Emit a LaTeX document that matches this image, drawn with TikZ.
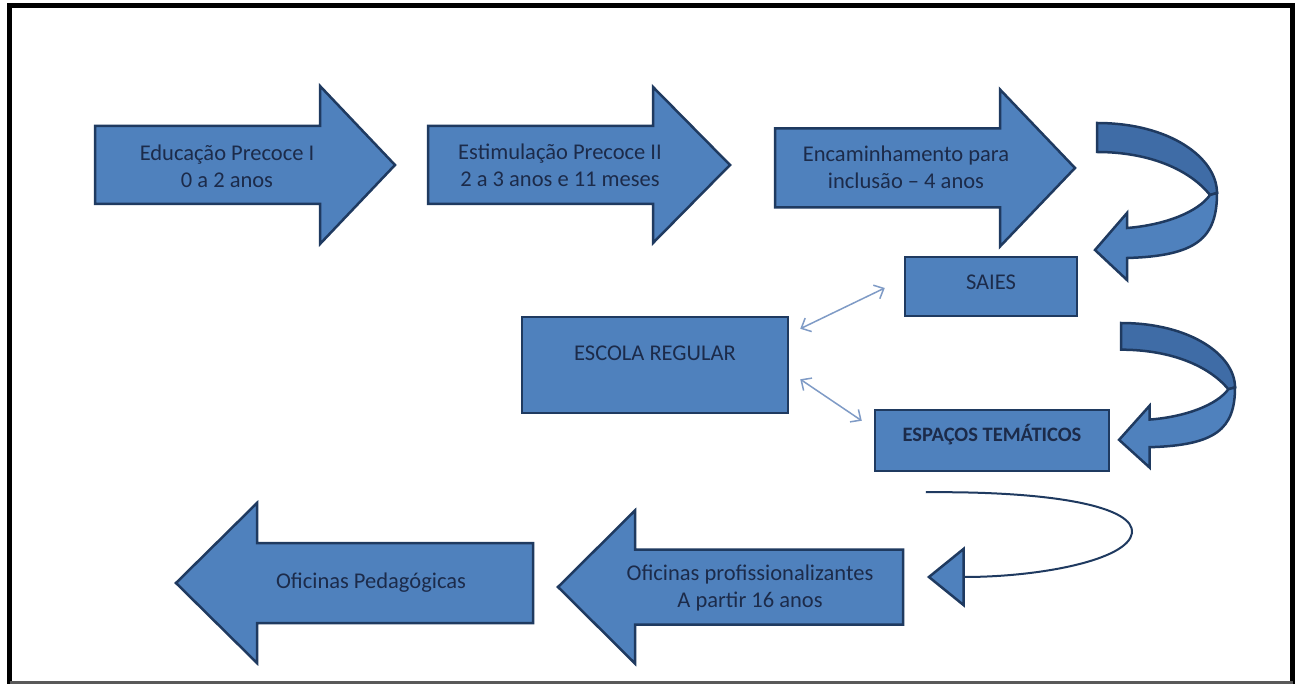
\documentclass[tikz,border=0pt]{standalone}
\usepackage{fontspec}
\setmainfont{Carlito}
\usetikzlibrary{arrows.meta,calc}
\definecolor{azul}{HTML}{4F81BD}
\definecolor{azulesc}{HTML}{3F6CA6}
\definecolor{contorno}{HTML}{1F3A60}
\definecolor{texto}{HTML}{1C2B4A}
\definecolor{ligacao}{HTML}{7F9BC6}
% seta larga: fim do corpo, inicio da ponta, ponta, centro, meia largura corpo, meia largura ponta
\newcommand{\seta}[6]{%
\draw[bloco] (#1,#4-#5) -- (#2,#4-#5) -- (#2,#4-#6) -- (#3,#4) -- (#2,#4+#6) -- (#2,#4+#5) -- (#1,#4+#5) -- cycle;}
% seta curva: canto, escala x, escala y
\newcommand{\curva}[4]{\begin{scope}[shift={(#1,#2)}, xscale=#3, yscale=#4]
\draw[bloco, fill=azulesc] (0,0) .. controls (73,0) and (120,35) .. (120,70) -- (113,72) .. controls (93,47) and (53,29) .. (0,29) -- cycle;
\draw[bloco] (120,70) .. controls (120,115) and (100,133) .. (30,135) -- (30,157) -- (-2,127) -- (30,90) -- (30,105) .. controls (68,102) and (101,89) .. (113,72) -- cycle;
\end{scope}}

\begin{document}
\begin{tikzpicture}[x=1pt, y=-1pt]
\tikzstyle{bloco} = [draw=contorno, fill=azul, line width=2.5, line join=miter];
\tikzstyle{rotulo} = [text=texto, align=center, font=\fontsize{22.5}{27}\selectfont];
\tikzstyle{caixa} = [bloco, rotulo, inner sep=0pt];
\tikzstyle{dupla} = [ligacao, line width=1.5, {Straight Barb[length=8pt,width=15pt]}-{Straight Barb[length=8pt,width=15pt]}];
\useasboundingbox (0,0) rectangle (1296,684);
\fill[white] (0,0) rectangle (1296,684);
% moldura
\draw[line width=5] (9.5,684) -- (9.5,5.5) -- (1292.5,5.5) -- (1292.5,684);
\draw[line width=3, gray!70!black] (9.5,682) -- (1292.5,682);

\seta{95}{320}{395}{165}{39}{79}
\seta{428}{653}{730}{165}{39}{78}
\seta{775}{1000}{1075}{168}{39.5}{78.5}
\seta{903}{635}{558}{587}{37.5}{76.5}
\seta{533}{257}{176}{583}{40}{80}

\node[rotulo] (edu) at (227,166) {Educação Precoce I\\0 a 2 anos};
\node[rotulo] (estim) at (560,165) {Estimulação Precoce II\\2 a 3 anos e 11 meses};
\node[rotulo] (encam) at (906,167) {Encaminhamento para\\inclusão – 4 anos};
\node[rotulo] (ofprof) at (750,588) {Oficinas profissionalizantes\\A partir 16 anos};
\node[rotulo] (ofped) at (371,583) {Oficinas Pedagógicas};

\curva{1097}{123}{1}{1}
\curva{1121}{323}{0.95}{0.92}

\node[caixa, minimum width=172, minimum height=59, text depth=9pt] (saies) at (991,286.5) {SAIES};
\node[caixa, minimum width=266, minimum height=96, text depth=24pt] (escola) at (655,365) {ESCOLA REGULAR};
\node[caixa, minimum width=234, minimum height=61, text depth=15pt, font=\fontsize{20.5}{24}\selectfont\bfseries] (espacos) at (992,440.5) {ESPAÇOS TEMÁTICOS};

\draw[dupla] ($(escola.north east)+(11,13)$) -- ($(saies.west)+(-19,1.5)$);
\draw[dupla] ($(escola.south east)+(11,-35)$) -- ($(espacos.north west)+(-12,12)$);

\coordinate (inicio) at ($(espacos.south west)+(52,20)$);
\coordinate (chegada) at ($(ofprof.east)+(50,-11)$);
\draw[contorno, line width=2, -{Triangle[length=38pt,width=61pt,fill=azul,line width=2.5pt]}] (inicio) .. controls (1060,491) and (1135,508) .. (1132,533) .. controls (1128,560) and (1040,577) .. (chegada);
\end{tikzpicture}
\end{document}
